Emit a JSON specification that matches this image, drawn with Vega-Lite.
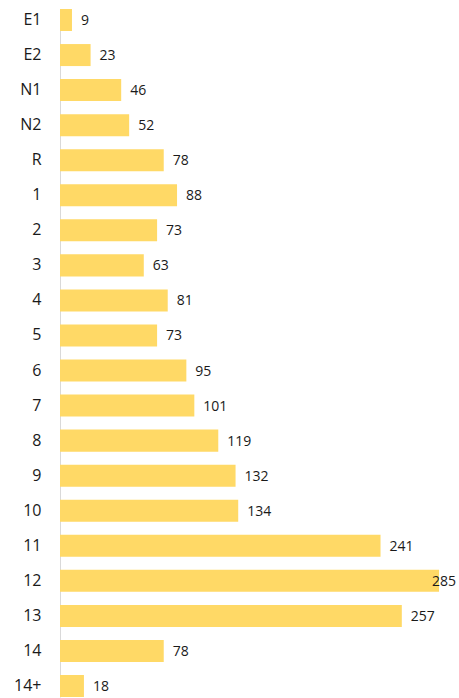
{
  "$schema": "https://vega.github.io/schema/vega-lite/v6.json",
  "autosize": "none",
  "padding": {"left": 60, "top": 9, "right": 0, "bottom": 1},
  "width": 399,
  "height": 688,
  "background": "white",
  "data": {"values": [
    {"cat": "E1", "value": 9},
    {"cat": "E2", "value": 23},
    {"cat": "N1", "value": 46},
    {"cat": "N2", "value": 52},
    {"cat": "R", "value": 78},
    {"cat": "1", "value": 88},
    {"cat": "2", "value": 73},
    {"cat": "3", "value": 63},
    {"cat": "4", "value": 81},
    {"cat": "5", "value": 73},
    {"cat": "6", "value": 95},
    {"cat": "7", "value": 101},
    {"cat": "8", "value": 119},
    {"cat": "9", "value": 132},
    {"cat": "10", "value": 134},
    {"cat": "11", "value": 241},
    {"cat": "12", "value": 285},
    {"cat": "13", "value": 257},
    {"cat": "14", "value": 78},
    {"cat": "14+", "value": 18}
  ]},
  "encoding": {
    "y": {
      "field": "cat", "type": "nominal", "sort": null,
      "scale": {"paddingInner": 0.372, "paddingOuter": 0},
      "axis": {
        "title": null, "ticks": false, "labelPadding": 19,
        "domainColor": "#d9d9d9", "domainWidth": 1,
        "labelFont": "Open Sans", "labelFontSize": 16, "labelColor": "#1a1a1a",
        "grid": false
      }
    },
    "x": {
      "field": "value", "type": "quantitative",
      "scale": {"domain": [0, 300], "nice": false},
      "axis": null
    }
  },
  "layer": [
    {"mark": {"type": "bar", "color": "#FFD966", "x2": 0.5}},
    {
      "transform": [{"filter": "datum.value < 280"}],
      "mark": {"type": "text", "align": "left", "baseline": "middle", "dx": 9, "dy": 1, "font": "Open Sans", "fontSize": 14, "color": "#1a1a1a"},
      "encoding": {"text": {"field": "value", "type": "quantitative"}}
    },
    {
      "transform": [{"filter": "datum.value >= 280"}],
      "mark": {"type": "text", "align": "left", "baseline": "middle", "dx": -7, "dy": 1, "font": "Open Sans", "fontSize": 14, "color": "#1a1a1a"},
      "encoding": {"text": {"field": "value", "type": "quantitative"}}
    }
  ],
  "config": {"view": {"stroke": null}}
}
